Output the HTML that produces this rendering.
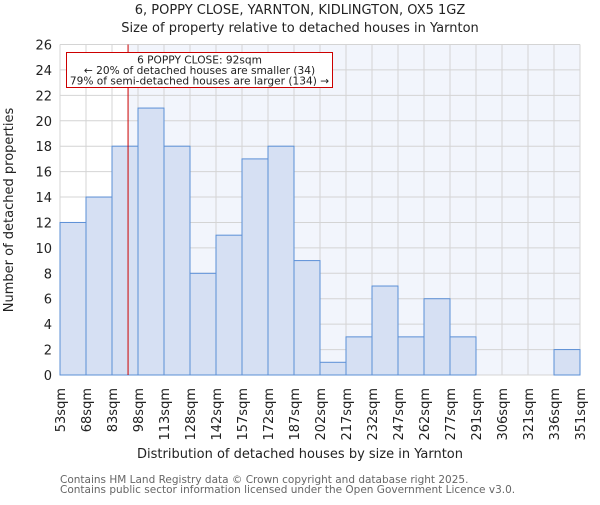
<!DOCTYPE html>
<html><head><meta charset="utf-8"><style>
body{margin:0;background:#fff;}
text{font-family:"DejaVu Sans","Liberation Sans",sans-serif;fill:#222;}
</style></head><body>
<svg id="chart" width="600" height="500">
<text x="300" y="14" text-anchor="middle" font-size="13">6, POPPY CLOSE, YARNTON, KIDLINGTON, OX5 1GZ</text>
<text x="300" y="32" text-anchor="middle" font-size="13">Size of property relative to detached houses in Yarnton</text>
<g id="plot"></g>
<text x="300" y="458" text-anchor="middle" font-size="13">Distribution of detached houses by size in Yarnton</text>
<text transform="translate(13,210) rotate(-90)" text-anchor="middle" font-size="13">Number of detached properties</text>
<text x="60" y="483" font-size="10.5" style="fill:#666">Contains HM Land Registry data © Crown copyright and database right 2025.</text>
<text x="60" y="493" font-size="10.5" style="fill:#666">Contains public sector information licensed under the Open Government Licence v3.0.</text>
</svg>
<script>
const categories=["53sqm","68sqm","83sqm","98sqm","113sqm","128sqm","142sqm","157sqm","172sqm","187sqm","202sqm","217sqm","232sqm","247sqm","262sqm","277sqm","291sqm","306sqm","321sqm","336sqm","351sqm"];
const counts=[12,14,18,21,18,8,11,17,18,9,1,3,7,3,6,3,0,0,0,2];
const yTicks=[0,2,4,6,8,10,12,14,16,18,20,22,24,26];
const binStart=53, binWidth=14.9, propertySize=92;
const X0=60,X1=580,Y0=375,Y1=44.5,yMax=26;
const bw=(X1-X0)/counts.length;
const xs=i=>X0+i*bw;
const xv=v=>X0+(v-binStart)/binWidth*bw;
const ys=v=>Y0-(v/yMax)*(Y0-Y1);
const NS="http://www.w3.org/2000/svg";
const g=document.getElementById('plot');
function mk(t,a){const e=document.createElementNS(NS,t);for(const k in a)e.setAttribute(k,a[k]);g.appendChild(e);return e;}
const rx=xv(propertySize);
let bg=mk('rect',{x:X0,y:Y1,width:X1-X0,height:Y0-Y1,fill:'#ffffff'});


let bg2=mk('rect',{x:rx,y:Y1,width:X1-rx,height:Y0-Y1,fill:'#f2f5fc'});


for(let i=0;i<=counts.length;i++){let l=mk('line',{x1:xs(i),x2:xs(i),y1:Y1,y2:Y0,stroke:'#d4d4d4','stroke-width':1});

}
yTicks.forEach(t=>{let l=mk('line',{x1:X0,x2:X1,y1:ys(t),y2:ys(t),stroke:'#d4d4d4','stroke-width':1});


let tx=mk('text',{x:X0-8,y:ys(t)+5,'text-anchor':'end','font-size':13});tx.textContent=t;

});
counts.forEach((c,i)=>{if(c<=0)return;let r=mk('rect',{x:xs(i),y:ys(c),width:bw,height:Y0-ys(c),fill:'#d6e0f3',stroke:'#5b8fd6','stroke-width':1});

});
categories.forEach((c,i)=>{let tx=mk('text',{'text-anchor':'end','font-size':13,transform:`translate(${xs(i)+5},388) rotate(-90)`});tx.textContent=c;

});
let rl=mk('line',{x1:rx,x2:rx,y1:Y1,y2:Y0,stroke:'#cc0000','stroke-width':1});


let box=mk('rect',{x:66.5,y:52.5,width:266,height:35,fill:'#fff',stroke:'#cc0000','stroke-width':1});


["6 POPPY CLOSE: 92sqm","← 20% of detached houses are smaller (34)","79% of semi-detached houses are larger (134) →"].forEach((s,i)=>{let t=mk('text',{x:199.5,y:63.5+i*10.5,'text-anchor':'middle','font-size':10.6});t.textContent=s;

});
</script>
</body></html>
